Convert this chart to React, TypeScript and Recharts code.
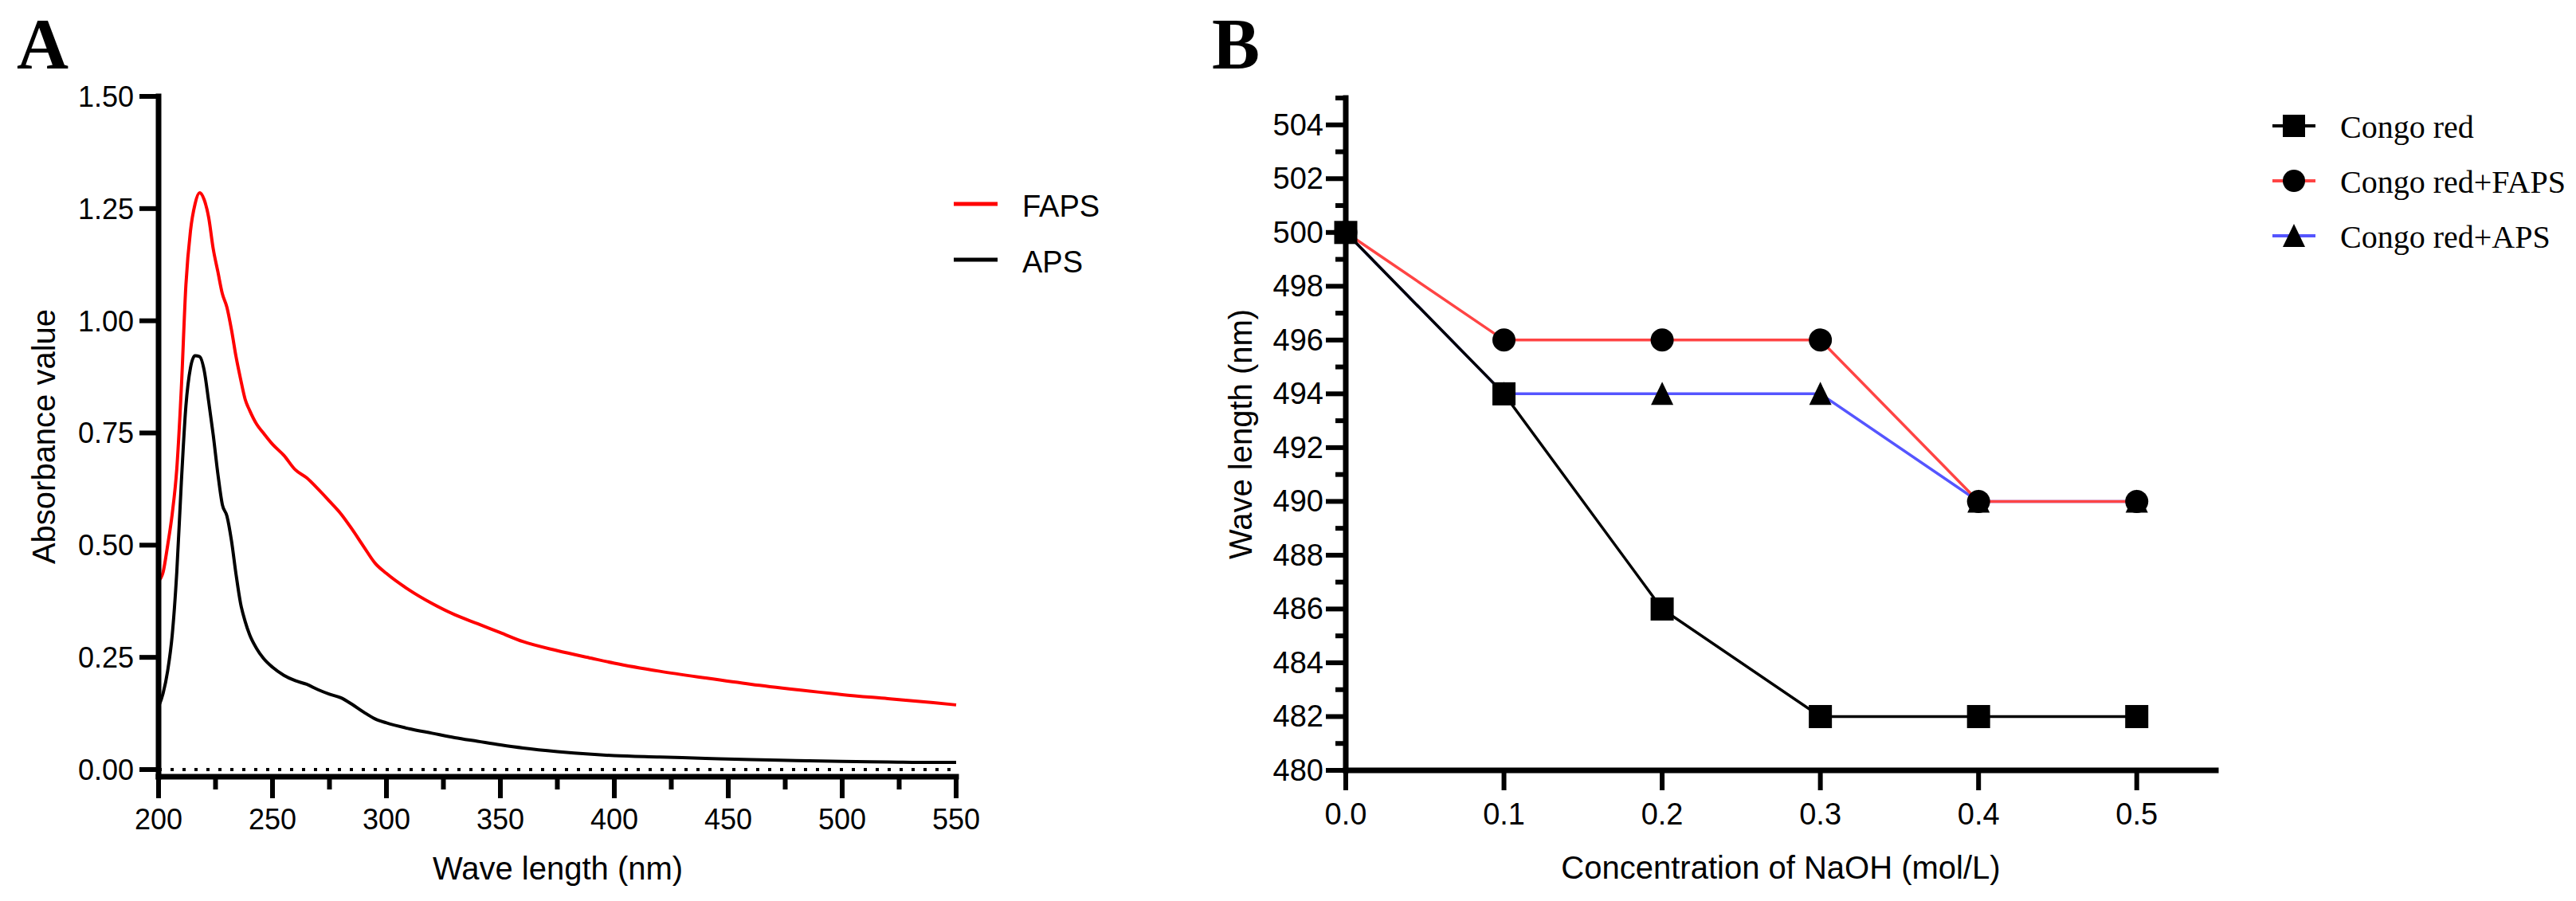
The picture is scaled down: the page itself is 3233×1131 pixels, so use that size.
import React from 'react';
import { LineChart, Line, XAxis, YAxis, ReferenceLine, Legend } from 'recharts';

const SANS = '"Liberation Sans", Arial, sans-serif';
const SERIF = '"Liberation Serif", "Times New Roman", serif';

// Panel A: UV spectra
const wavelengths = [
  200, 202, 204, 206, 208, 210, 212, 214, 216, 218, 220, 222, 224, 226, 228, 230, 232, 234, 236, 238,
  240, 243, 246, 250, 255, 260, 265, 270, 275, 280, 285, 290, 295, 300, 310, 320, 330, 340, 350, 360,
  375, 390, 400, 420, 440, 460, 480, 500, 520, 540, 550,
];
const fapsAbsorbance = [
  0.42, 0.44, 0.5, 0.57, 0.67, 0.85, 1.08, 1.2, 1.26, 1.285, 1.27, 1.23, 1.16, 1.11, 1.06, 1.03, 0.98, 0.92, 0.87, 0.825,
  0.8, 0.77, 0.75, 0.725, 0.7, 0.668, 0.65, 0.625, 0.598, 0.57, 0.535, 0.497, 0.46, 0.437, 0.4, 0.37, 0.345, 0.325, 0.305, 0.285,
  0.265, 0.248, 0.237, 0.219, 0.204, 0.19, 0.178, 0.167, 0.158, 0.149, 0.144,
];
const apsAbsorbance = [
  0.14, 0.17, 0.22, 0.3, 0.44, 0.64, 0.81, 0.895, 0.922, 0.92, 0.89, 0.82, 0.745, 0.66, 0.59, 0.565, 0.51, 0.435, 0.37, 0.33,
  0.3, 0.27, 0.248, 0.228, 0.21, 0.198, 0.19, 0.178, 0.168, 0.16, 0.145, 0.128, 0.113, 0.104, 0.091, 0.081, 0.071, 0.063, 0.055, 0.048,
  0.04, 0.034, 0.031, 0.028, 0.025, 0.022, 0.02, 0.018, 0.017, 0.016, 0.016,
];
const absTicks = [0, 0.25, 0.5, 0.75, 1, 1.25, 1.5];
const waveTicks = [200, 225, 250, 275, 300, 325, 350, 375, 400, 425, 450, 475, 500, 525, 550];

// Panel B: Congo red shift
const naohConc = [0, 0.1, 0.2, 0.3, 0.4, 0.5];
const congoRed = [500, 494, 486, 482, 482, 482];
const congoRedFaps = [500, 496, 496, 496, 490, 490];
const congoRedAps = [500, 494, 494, 494, 490, 490];
const concTicks = [0, 0.1, 0.2, 0.3, 0.4, 0.5];
const lambdaTicks = [
  480, 481, 482, 483, 484, 485, 486, 487, 488, 489, 490, 491, 492,
  493, 494, 495, 496, 497, 498, 499, 500, 501, 502, 503, 504, 505,
];

const spectrumData = wavelengths.map((w, i) => ({ w, faps: fapsAbsorbance[i], aps: apsAbsorbance[i] }));
const congoData = naohConc.map((c, i) => ({
  c,
  cr: congoRed[i],
  crFaps: congoRedFaps[i],
  crAps: congoRedAps[i],
}));

const AXIS_W = 7;
const TICK_W = 6;

const WaveTick = (props: any) => {
  const { x, y, payload } = props;
  const major = payload.value % 50 === 0;
  return (
    <g>
      <line x1={x} x2={x} y1={y} y2={y + (major ? 27 : 16)} stroke="#000" strokeWidth={TICK_W} />
      {major && (
        <text x={x} y={y + 66} textAnchor="middle" fontSize={36} fontFamily={SANS} fill="#000">
          {payload.value}
        </text>
      )}
    </g>
  );
};

const AbsTick = (props: any) => {
  const { x, y, payload } = props;
  return (
    <g>
      <line x1={x - 24} x2={x} y1={y} y2={y} stroke="#000" strokeWidth={TICK_W} />
      <text x={x - 31} y={y + 13} textAnchor="end" fontSize={36} fontFamily={SANS} fill="#000">
        {payload.value.toFixed(2)}
      </text>
    </g>
  );
};

const ConcTick = (props: any) => {
  const { x, y, payload } = props;
  return (
    <g>
      <line x1={x} x2={x} y1={y} y2={y + 25} stroke="#000" strokeWidth={TICK_W} />
      <text x={x} y={y + 68} textAnchor="middle" fontSize={38} fontFamily={SANS} fill="#000">
        {payload.value.toFixed(1)}
      </text>
    </g>
  );
};

const LambdaTick = (props: any) => {
  const { x, y, payload } = props;
  const major = payload.value % 2 === 0 && payload.value < 505;
  return (
    <g>
      <line x1={x - (major ? 25 : 13)} x2={x} y1={y} y2={y} stroke="#000" strokeWidth={TICK_W} />
      {major && (
        <text x={x - 28} y={y + 13} textAnchor="end" fontSize={38} fontFamily={SANS} fill="#000">
          {payload.value}
        </text>
      )}
    </g>
  );
};

const squareDot = (p: any) => (
  <rect key={`sq-${p.index}`} x={p.cx - 14.5} y={p.cy - 14.5} width={29} height={29} fill="#000" />
);
const circleDot = (p: any) => <circle key={`ci-${p.index}`} cx={p.cx} cy={p.cy} r={14.5} fill="#000" />;
const triangleDot = (p: any) => (
  <polygon
    key={`tr-${p.index}`}
    points={`${p.cx},${p.cy - 15} ${p.cx - 14},${p.cy + 14} ${p.cx + 14},${p.cy + 14}`}
    fill="#000"
  />
);

const spectrumSeries = [
  { name: 'FAPS', color: '#ff0000' },
  { name: 'APS', color: '#000000' },
];

const SpectrumLegend = () => (
  <svg width={220} height={140}>
    {spectrumSeries.map((s, i) => {
      const y = 36 + i * 70;
      return (
        <g key={s.name}>
          <line x1={7} x2={62} y1={y} y2={y} stroke={s.color} strokeWidth={5} />
          <text x={93} y={y + 16} fontSize={38} fontFamily={SANS} fill="#000">
            {s.name}
          </text>
        </g>
      );
    })}
  </svg>
);

const congoSeries = [
  { name: 'Congo red', color: '#000000', shape: 'square' },
  { name: 'Congo red+FAPS', color: '#ff4444', shape: 'circle' },
  { name: 'Congo red+APS', color: '#5555ff', shape: 'triangle' },
];

const CongoLegend = () => (
  <svg width={420} height={220}>
    {congoSeries.map((s, i) => {
      const y = 38 + i * 69;
      const cx = 39;
      return (
        <g key={s.name}>
          <line x1={12} x2={66} y1={y} y2={y} stroke={s.color} strokeWidth={4} />
          {s.shape === 'square' && <rect x={cx - 14} y={y - 14} width={28} height={28} fill="#000" />}
          {s.shape === 'circle' && <circle cx={cx} cy={y} r={14} fill="#000" />}
          {s.shape === 'triangle' && (
            <polygon points={`${cx},${y - 15} ${cx - 14},${y + 14} ${cx + 14},${y + 14}`} fill="#000" />
          )}
          <text x={97} y={y + 15} fontSize={40} fontFamily={SERIF} fill="#000">
            {s.name}
          </text>
        </g>
      );
    })}
  </svg>
);

const legendPos = { layout: 'vertical' as const, align: 'center' as const, verticalAlign: 'middle' as const };

export default function App() {
  const axisLine = { stroke: '#000', strokeWidth: AXIS_W, strokeLinecap: 'square' as const };
  return (
    <div style={{ position: 'absolute', left: 0, top: 0, width: 3233, height: 1131, background: '#fff' }}>
      {/* Panel A */}
      <div style={{ position: 'absolute', left: 0, top: 0 }}>
        <LineChart width={1500} height={1131} data={spectrumData} margin={{ top: 121, right: 300, bottom: 56, left: 0 }}>
          <XAxis
            dataKey="w"
            type="number"
            domain={[200, 550]}
            ticks={waveTicks}
            interval={0}
            height={100}
            tickSize={0}
            tickMargin={0}
            tickLine={false}
            axisLine={axisLine}
            tick={<WaveTick />}
          />
          <YAxis
            type="number"
            domain={[-0.016, 1.5]}
            ticks={absTicks}
            interval={0}
            width={199}
            tickSize={0}
            tickMargin={0}
            tickLine={false}
            axisLine={axisLine}
            tick={<AbsTick />}
          />
          <ReferenceLine y={0} stroke="#000" strokeWidth={4} strokeDasharray="4 11" />
          <Line type="monotone" dataKey="aps" stroke="#000" strokeWidth={4} dot={false} isAnimationActive={false} />
          <Line type="monotone" dataKey="faps" stroke="#ff0000" strokeWidth={4} dot={false} isAnimationActive={false} />
          <Legend
            {...legendPos}
            content={<SpectrumLegend />}
            wrapperStyle={{ left: 1190, top: 220, right: 'auto', bottom: 'auto', width: 220, height: 140 }}
          />
        </LineChart>
      </div>

      {/* Panel B */}
      <div style={{ position: 'absolute', left: 1400, top: 0 }}>
        <LineChart width={1833} height={1131} data={congoData} margin={{ top: 123, right: 452, bottom: 64, left: 0 }}>
          <XAxis
            dataKey="c"
            type="number"
            domain={[0, 0.55]}
            ticks={concTicks}
            interval={0}
            height={100}
            tickSize={0}
            tickMargin={0}
            tickLine={false}
            axisLine={axisLine}
            tick={<ConcTick />}
          />
          <YAxis
            type="number"
            domain={[480, 505]}
            ticks={lambdaTicks}
            interval={0}
            width={289}
            tickSize={0}
            tickMargin={0}
            tickLine={false}
            axisLine={axisLine}
            tick={<LambdaTick />}
          />
          <Line type="linear" dataKey="crAps" stroke="#5555ff" strokeWidth={3.5} dot={triangleDot} isAnimationActive={false} />
          <Line type="linear" dataKey="crFaps" stroke="#ff4444" strokeWidth={3.5} dot={circleDot} isAnimationActive={false} />
          <Line type="linear" dataKey="cr" stroke="#000" strokeWidth={3.5} dot={squareDot} isAnimationActive={false} />
          <Legend
            {...legendPos}
            content={<CongoLegend />}
            wrapperStyle={{ left: 1440, top: 120, right: 'auto', bottom: 'auto', width: 420, height: 220 }}
          />
        </LineChart>
      </div>

      {/* panel letters and axis titles */}
      <svg
        width={3233}
        height={1131}
        style={{ position: 'absolute', left: 0, top: 0, pointerEvents: 'none' }}
      >
        <text x={21} y={86} fontSize={90} fontWeight="bold" fontFamily={SERIF} fill="#000">A</text>
        <text x={1521} y={86} fontSize={90} fontWeight="bold" fontFamily={SERIF} fill="#000">B</text>
        <text x={700} y={1104} textAnchor="middle" fontSize={40} fontFamily={SANS} fill="#000">
          Wave length (nm)
        </text>
        <text
          x={69}
          y={548}
          transform="rotate(-90 69 548)"
          textAnchor="middle"
          fontSize={40}
          fontFamily={SANS}
          fill="#000"
        >
          Absorbance value
        </text>
        <text x={2235} y={1103} textAnchor="middle" fontSize={40} fontFamily={SANS} fill="#000">
          Concentration of NaOH (mol/L)
        </text>
        <text
          x={1571}
          y={545}
          transform="rotate(-90 1571 545)"
          textAnchor="middle"
          fontSize={40}
          fontFamily={SANS}
          fill="#000"
        >
          Wave length (nm)
        </text>
      </svg>
    </div>
  );
}
